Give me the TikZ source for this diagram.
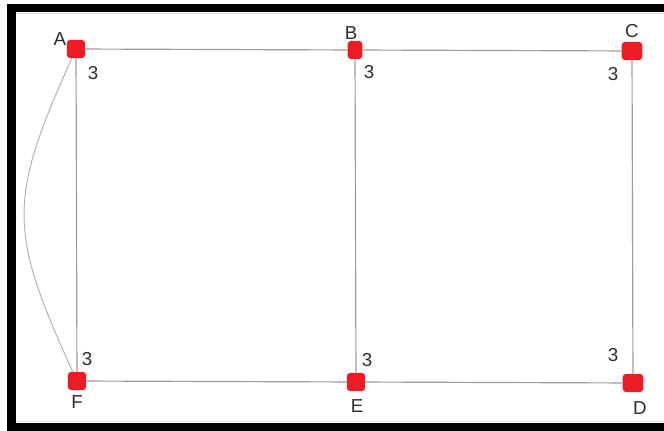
\documentclass[tikz,border=0pt]{standalone}
\usepackage{fontspec}
\setmainfont{Liberation Sans}
\usetikzlibrary{positioning}
\definecolor{dugumKirmizi}{HTML}{EC1C24}
\definecolor{kenarGri}{HTML}{9C9C9C}
\definecolor{egriGri}{HTML}{B0B0B0}
\definecolor{yaziGri}{HTML}{2E2E2E}
\definecolor{cerceveAcik}{HTML}{DCE2EA}

\begin{document}
\begin{tikzpicture}[x=0.03cm,y=-0.03cm,
  dugum/.style={fill=dugumKirmizi,rounded corners=3pt,minimum size=0.55cm,inner sep=0pt},
  kenar/.style={kenarGri,line width=1pt},
  egri/.style={egriGri,line width=0.8pt},
  etiket/.style={text=yaziGri,inner sep=0pt,font=\fontsize{16}{18}\selectfont}]
\useasboundingbox (0,0) rectangle (664,431);
\fill[white] (0,0) rectangle (664,431);
\fill[black] (7,4) rectangle (664,12);
\fill[black] (7,4) rectangle (16,431);
\fill[black] (7,423) rectangle (664,431);
\draw[cerceveAcik] (16,13.5) -- (664,13.5);
\draw[cerceveAcik] (16,421) -- (664,421);
\node[dugum] (A) at (76,49) {};
\node[dugum,minimum width=0.44cm] (B) at (355,50) {};
\node[dugum,minimum width=0.62cm] (C) at (632,51) {};
\node[dugum] (F) at (77,381) {};
\node[dugum] (E) at (356,382) {};
\node[dugum,minimum width=0.62cm] (D) at (633,383) {};
\draw[kenar] (A) -- (B);
\draw[kenar] (B) -- (C);
\draw[kenar] (A) -- (F);
\draw[kenar] (B) -- (E);
\draw[kenar] (C) -- (D);
\draw[kenar] (F) -- (E);
\draw[kenar] (E) -- (D);
\draw[egri] (A) .. controls (8,200) and (8,230) .. (F);
\foreach \ad/\px/\py in {A/60/39,B/351/33,C/632/31,D/640/408,E/357/406,F/77/402}
  \node[etiket] (ad\ad) at (\px,\py) {\ad};
\foreach \ad/\px/\py in {A/93/73,B/369/72,C/613/74,D/613/355,E/367/360,F/87/359}
  \node[etiket] (agirlik\ad) at (\px,\py) {3};
\end{tikzpicture}
\end{document}
